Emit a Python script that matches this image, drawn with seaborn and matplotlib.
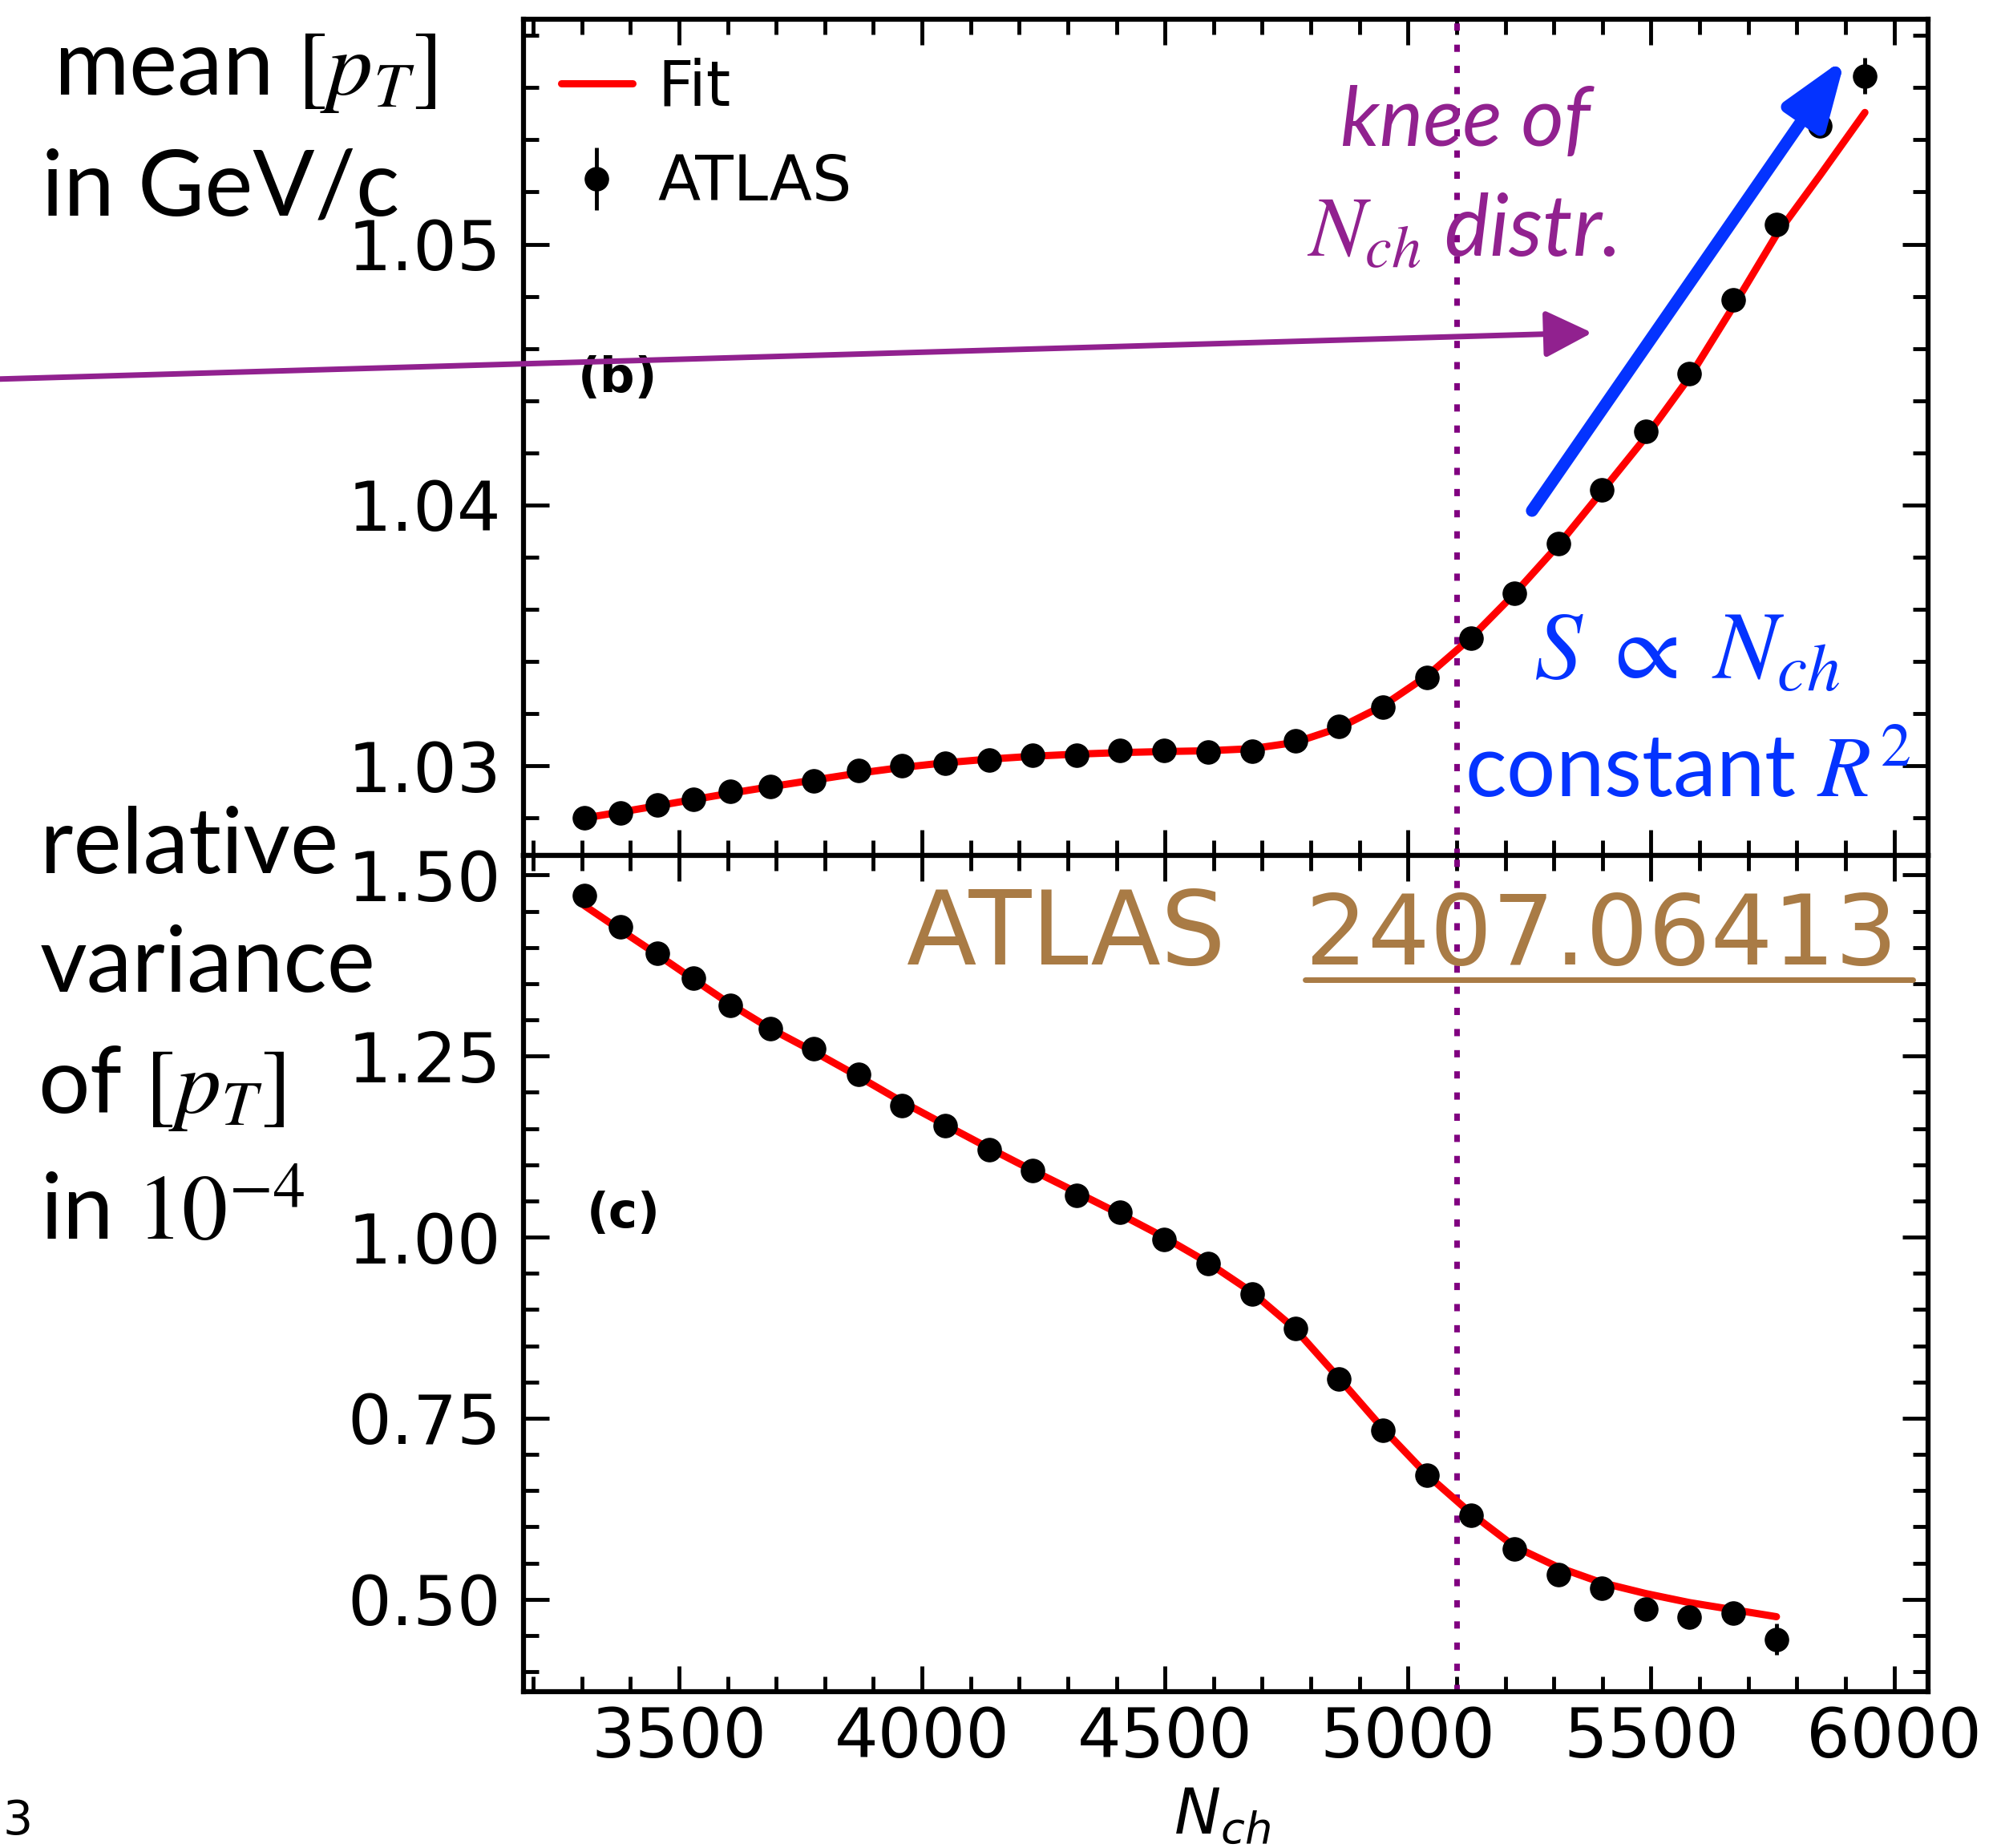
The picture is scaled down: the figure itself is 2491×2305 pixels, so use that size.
import pandas as pd
import seaborn as sns
import matplotlib.pyplot as plt
from matplotlib.patches import FancyArrowPatch
from matplotlib.lines import Line2D
from matplotlib.ticker import MultipleLocator, FormatStrFormatter

# values
n_ch = [3305, 3380, 3456, 3530, 3605, 3688, 3778, 3869, 3959, 4048, 4138,
        4228, 4318, 4407, 4498, 4588, 4679, 4768, 4857, 4948, 5039, 5129,
        5219, 5310, 5398, 5489, 5579, 5669, 5758, 5848, 5940]

mean_pt = [1.02802, 1.02819, 1.02851, 1.02873, 1.02903, 1.02920, 1.02943,
           1.02982, 1.03000, 1.03011, 1.03023, 1.03041, 1.03041, 1.03058,
           1.03058, 1.03053, 1.03057, 1.03095, 1.03153, 1.03225, 1.03339,
           1.03490, 1.03661, 1.03852, 1.04059, 1.04283, 1.04505, 1.04787,
           1.05076, 1.05454, 1.05645]
mean_pt_err = [0.00005, 0.00005, 0.00005, 0.00005, 0.00005, 0.00005, 0.00005,
               0.00005, 0.00005, 0.00005, 0.00005, 0.00005, 0.00005, 0.00005,
               0.00005, 0.00005, 0.00005, 0.00005, 0.00005, 0.00006, 0.00006,
               0.00007, 0.00007, 0.00008, 0.00009, 0.0001, 0.00012, 0.00015,
               0.0002, 0.0003, 0.0007]
mean_pt_fit = [1.02800, 1.02823, 1.02847, 1.02871, 1.02895, 1.02920, 1.02946,
               1.02972, 1.02994, 1.03012, 1.03026, 1.03037, 1.03045, 1.03051,
               1.03055, 1.03058, 1.03066, 1.03090, 1.03145, 1.03230, 1.03345,
               1.03490, 1.03660, 1.03848, 1.04050, 1.04260, 1.04490, 1.04760,
               1.05036, 1.05265, 1.05505]

n_ch_var = n_ch[:29]
rel_var = [1.472, 1.428, 1.392, 1.358, 1.320, 1.288, 1.260, 1.225, 1.182,
           1.154, 1.121, 1.092, 1.058, 1.034, 0.997, 0.964, 0.921, 0.874,
           0.804, 0.733, 0.671, 0.616, 0.570, 0.534, 0.515, 0.487, 0.475,
           0.481, 0.445]
rel_var_err = [0.004, 0.004, 0.004, 0.004, 0.004, 0.004, 0.004, 0.004, 0.004,
               0.004, 0.004, 0.004, 0.004, 0.004, 0.004, 0.004, 0.004, 0.005,
               0.005, 0.005, 0.005, 0.006, 0.006, 0.007, 0.008, 0.009, 0.010,
               0.012, 0.022]
rel_var_fit = [1.458, 1.424, 1.390, 1.356, 1.322, 1.288, 1.256, 1.222, 1.187,
               1.155, 1.123, 1.092, 1.062, 1.032, 1.000, 0.965, 0.924, 0.873,
               0.806, 0.736, 0.672, 0.619, 0.573, 0.544, 0.523, 0.508, 0.4955,
               0.4857, 0.476]

knee = 5100

top_df = pd.DataFrame({"Nch": n_ch, "mean": mean_pt, "err": mean_pt_err, "fit": mean_pt_fit})
bot_df = pd.DataFrame({"Nch": n_ch_var, "var": rel_var, "err": rel_var_err, "fit": rel_var_fit})

sns.set_theme(style="ticks")
plt.rcParams["font.family"] = ["DejaVu Sans"]
plt.rcParams.update({"text.color": "black", "axes.labelcolor": "black",
                     "xtick.color": "black", "ytick.color": "black",
                     "axes.edgecolor": "black"})

PURPLE = "#91218f"
DOTS = "#800080"
BLUE = "#0433ff"
BROWN = "#a97b45"

fig = plt.figure(figsize=(24.91, 23.05), dpi=100)
gs = fig.add_gridspec(2, 1, hspace=0, left=0.2621, right=0.9655, top=0.9894, bottom=0.0846)
ax1 = fig.add_subplot(gs[0])
ax2 = fig.add_subplot(gs[1], sharex=ax1)

# (b) mean pT
sns.lineplot(data=top_df, x="Nch", y="fit", ax=ax1, color="red", lw=6.5, label="Fit", zorder=2)
ax1.errorbar(top_df["Nch"], top_df["mean"], yerr=top_df["err"], fmt="o", color="black",
             ms=21, elinewidth=3.5, capsize=0, label="ATLAS", zorder=3)
# (c) relative variance
sns.lineplot(data=bot_df, x="Nch", y="fit", ax=ax2, color="red", lw=6.5, zorder=2, legend=False)
ax2.errorbar(bot_df["Nch"], bot_df["var"], yerr=bot_df["err"], fmt="o", color="black",
             ms=21, elinewidth=3.5, capsize=0, zorder=3)

for ax in (ax1, ax2):
    ax.axvline(knee, color=DOTS, lw=5, ls=(0, (1.3, 2.5)), zorder=1)
    ax.tick_params(which="both", direction="in", top=True, right=True, width=3.5,
                   labelsize=62, color="black", labelcolor="black")
    ax.tick_params(which="major", length=23)
    ax.tick_params(which="minor", length=14)
    ax.tick_params(axis="y", pad=20)
    ax.tick_params(axis="x", pad=12)
    for s in ax.spines.values():
        s.set_linewidth(4.5)
        s.set_color("black")
    ax.set_xlabel("")
    ax.set_ylabel("")
    ax.xaxis.set_major_locator(MultipleLocator(500))
    ax.xaxis.set_minor_locator(MultipleLocator(100))

ax1.set_xlim(3180, 6070)
ax1.set_ylim(1.02656, 1.05861)
ax1.yaxis.set_major_locator(MultipleLocator(0.01))
ax1.yaxis.set_minor_locator(MultipleLocator(0.002))
ax1.yaxis.set_major_formatter(FormatStrFormatter("%.2f"))
ax1.tick_params(labelbottom=False)

ax2.set_ylim(0.3725, 1.5268)
ax2.yaxis.set_major_locator(MultipleLocator(0.25))
ax2.yaxis.set_minor_locator(MultipleLocator(0.05))
ax2.yaxis.set_major_formatter(FormatStrFormatter("%.2f"))

handles, labels = ax1.get_legend_handles_labels()
order = [labels.index("Fit"), labels.index("ATLAS")]
ax1.legend([handles[i] for i in order], [labels[i] for i in order], loc="upper left",
           frameon=False, fontsize=56, handlelength=1.15, handletextpad=0.4,
           borderaxespad=0.3, borderpad=0.3, labelspacing=0.55, labelcolor="black")

ax1.text(0.0674, 0.5707, "(b)", transform=ax1.transAxes, fontsize=44, fontweight="bold",
         ha="center", va="center")
ax2.text(0.0713, 0.5714, "(c)", transform=ax2.transAxes, fontsize=44, fontweight="bold",
         ha="center", va="center")

# slide annotations
lab = dict(fontsize=82, family="Lato", math_fontfamily="stix", ha="left", va="baseline",
           color="black")
fig.text(0.027, 1 - 118 / 2305, r"mean $[p_T]$", **lab)
fig.text(0.021, 1 - 268 / 2305, "in GeV/c", **lab)
fig.text(0.020, 1 - 1089 / 2305, "relative", **lab)
fig.text(0.020, 1 - 1237 / 2305, "variance", **lab)
fig.text(0.019, 1 - 1388 / 2305, r"of $[p_T]$", **lab)
fig.text(0.020, 1 - 1546 / 2305, r"in $10^{-4}$", **lab)

fig.text(0.7338, 1 - 182 / 2305, "knee of", fontsize=74, family="Lato", style="italic",
         color=PURPLE, ha="center", va="baseline")
fig.text(0.7318, 1 - 320 / 2305, r"$N_{ch}$ distr.", fontsize=76, family="Lato", style="italic",
         math_fontfamily="stix", color=PURPLE, ha="center", va="baseline")
fig.text(0.8450, 1 - 847 / 2305, r"$S\;\propto\;N_{ch}$", fontsize=86, math_fontfamily="stix",
         color=BLUE, ha="center", va="baseline")
fig.text(0.8450, 1 - 994 / 2305, r"constant $R^2$", fontsize=78, family="Lato",
         math_fontfamily="stix", color=BLUE, ha="center", va="baseline")

fig.text(1131 / 2491, 1 - 1203 / 2305, "ATLAS", fontsize=92, color=BROWN, ha="left", va="baseline")
fig.text(1628 / 2491, 1 - 1203 / 2305, "2407.06413", fontsize=88, color=BROWN, ha="left", va="baseline")
fig.add_artist(Line2D([1628 / 2491, 2386 / 2491], [1 - 1222 / 2305, 1 - 1222 / 2305],
                      transform=fig.transFigure, color=BROWN, lw=5))

fig.add_artist(FancyArrowPatch((-0.01, 1 - 473.5 / 2305), (1986 / 2491, 1 - 415 / 2305),
                               transform=fig.transFigure, color=PURPLE, lw=5,
                               arrowstyle="-|>,head_length=0.9,head_width=0.45",
                               mutation_scale=40, shrinkA=0, shrinkB=0))
fig.add_artist(FancyArrowPatch((1911 / 2491, 1 - 637 / 2305), (2302 / 2491, 1 - 72 / 2305),
                               transform=fig.transFigure, color=BLUE, lw=11,
                               arrowstyle="-|>,head_length=0.5,head_width=0.18",
                               mutation_scale=100, shrinkA=0, shrinkB=0))

fig.text(0.612, 1 - 2288 / 2305, r"$N_{ch}$", fontsize=56, ha="center", va="baseline")
fig.text(0.0015, 0.002, "3", fontsize=42, ha="left", va="bottom")

fig.savefig("out.png", dpi=100)
